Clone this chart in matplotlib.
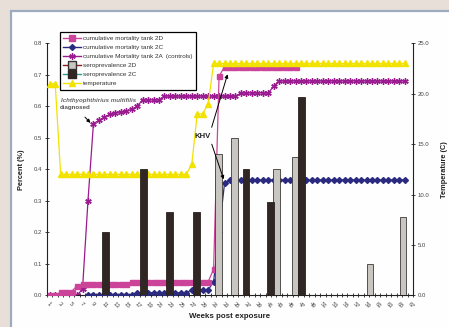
import numpy as np
import matplotlib
matplotlib.use("Agg")
import matplotlib.pyplot as plt
from matplotlib.lines import Line2D
from matplotlib.patches import Rectangle

plt.rcParams['font.family'] = ['Liberation Sans', 'DejaVu Sans']

nan = np.nan
weeks = list(range(1, 68))  # 67 categories

temperature = [21.0, 21.0,
               12.0, 12.0, 12.0, 12.0, 12.0, 12.0, 12.0, 12.0, 12.0, 12.0, 12.0, 12.0,
               12.0, 12.0, 12.0, 12.0, 12.0, 12.0, 12.0, 12.0, 12.0, 12.0, 12.0, 12.0,
               13.0, 18.0, 18.0, 19.0,
               23.0, 23.0, 23.0, 23.0, 23.0, 23.0, 23.0, 23.0, 23.0, 23.0, 23.0, 23.0,
               23.0, 23.0, 23.0, 23.0, 23.0, 23.0, 23.0, 23.0, 23.0, 23.0, 23.0, 23.0,
               23.0, 23.0, 23.0, 23.0, 23.0, 23.0, 23.0, 23.0, 23.0, 23.0, 23.0, 23.0,
               nan]

mort_2d = [0.0, 0.0, 0.01, 0.012, 0.012, 0.03,
           0.036, 0.036, 0.036, 0.036, 0.036, 0.036, 0.036, 0.036, 0.036,
           0.043, 0.043, 0.043, 0.043, 0.043, 0.043, 0.043, 0.043, 0.043, 0.043,
           0.043, 0.043, 0.043, 0.043, 0.043,
           0.083, 0.695,
           0.726, 0.726, 0.726, 0.726, 0.726, 0.726, 0.726, 0.726, 0.726, 0.726,
           0.726, 0.726, 0.726, 0.726,
           nan, nan, nan, nan, nan, nan, nan, nan, nan, nan, nan, nan, nan, nan,
           nan, nan, nan, nan, nan, nan, nan]

mort_2c = [nan, nan, nan, nan, nan, nan, nan,
           0.0, 0.0, 0.0, 0.0, 0.0, 0.0, 0.0, 0.0, 0.0,
           0.008, 0.008, 0.008, 0.008, 0.008, 0.008, 0.008, 0.008, 0.008, 0.008,
           0.017, 0.017, 0.017, 0.017,
           0.043, 0.2, 0.356,
           0.366, 0.366, 0.366, 0.366, 0.366, 0.366, 0.366, 0.366, 0.366, 0.366, 0.366,
           0.366, 0.366, 0.366, 0.366, 0.366, 0.366, 0.366, 0.366, 0.366, 0.366, 0.366,
           0.366, 0.366, 0.366, 0.366, 0.366, 0.366, 0.366, 0.366, 0.366, 0.366, 0.366,
           nan]

mort_2a = [0.0, 0.0, 0.0, 0.0, 0.0, 0.0,
           0.02, 0.3, 0.545, 0.555, 0.565, 0.575, 0.58, 0.582, 0.585, 0.59, 0.60,
           0.62, 0.62, 0.62, 0.62,
           0.632, 0.632, 0.632, 0.632, 0.632, 0.632, 0.632, 0.632, 0.632, 0.632,
           0.632, 0.632, 0.632, 0.632,
           0.642, 0.642, 0.642, 0.642, 0.642, 0.642,
           0.664,
           0.68, 0.68, 0.68, 0.68, 0.68, 0.68, 0.68, 0.68, 0.68, 0.68, 0.68, 0.68,
           0.68, 0.68, 0.68, 0.68, 0.68, 0.68, 0.68, 0.68, 0.68, 0.68, 0.68, 0.68,
           nan]

# seroprevalence bars: position on the week axis (category units) and value
sero_2c_pos = [10.2, 17.2, 21.9, 26.9, 35.9, 40.4, 46.1]
sero_2c_val = [0.2, 0.4, 0.266, 0.266, 0.4, 0.296, 0.629]
sero_2d_pos = [30.9, 33.8, 41.5, 44.9, 58.6, 64.7]
sero_2d_val = [0.45, 0.5, 0.4, 0.44, 0.1, 0.25]

c2d = '#CC4499'
c2c = '#2A2A80'
c2a = '#9A1A90'
ctemp = '#F2E200'
cdark = '#302624'
cgrey = '#C9C5C1'

W, H = 449, 327
fig = plt.figure(figsize=(W / 100, H / 100), dpi=100)
fig.patch.set_facecolor('#E8E0D8')
frame = Rectangle((10.5 / W, -0.1), 1.2, 1 - 10.5 / H + 0.1,
                  transform=fig.transFigure, facecolor='#FEFEFE',
                  edgecolor='#9DABBF', lw=1.6, zorder=-10)
fig.patches.append(frame)

ax = fig.add_axes([47 / W, 1 - 295.3 / H, 366 / W, 252 / H])
ax.patch.set_visible(False)
x = np.arange(len(weeks))

ax.plot(x, mort_2a, color=c2a, lw=0.9, marker=(6, 2, 0), markersize=4.6,
        markeredgewidth=1.0, zorder=2)
ax.plot(x, mort_2c, color=c2c, lw=0.9, marker='D', markersize=3.0, zorder=3)
ax.plot(x, mort_2d, color=c2d, lw=0.9, marker='s', markersize=3.6, zorder=4)

ax.set_xlim(-0.5, len(weeks) - 0.5)
ax.set_ylim(0, 0.8)
ax.set_yticks(np.arange(0, 0.81, 0.1))
ax.set_yticklabels([f'{v:.1f}' for v in np.arange(0, 0.81, 0.1)])
ax.set_xticks(x[::2])
ax.set_xticklabels([str(w) for w in weeks[::2]], rotation=-45, ha='left',
                   va='top', rotation_mode='anchor')
ax.set_xticks(np.arange(-0.5, len(weeks), 1), minor=True)
ax.tick_params(axis='x', which='major', length=0, pad=4, labelsize=4.2,
               labelcolor='#444444')
ax.tick_params(axis='x', which='minor', length=3, direction='inout',
               width=0.6, color='#222222')
ax.tick_params(axis='y', length=3, direction='inout', width=0.6,
               labelsize=4.3, labelcolor='#444444', pad=2, color='#222222')
for s in ['top', 'right']:
    ax.spines[s].set_visible(False)
for s in ['left', 'bottom']:
    ax.spines[s].set_color('#222222')
    ax.spines[s].set_linewidth(0.8)
ax.set_ylabel('Percent (%)', fontsize=5.3, fontweight='bold', color='#222222',
              labelpad=6)
ax.set_xlabel('Weeks post exposure', fontsize=5.7, fontweight='bold',
              color='#222222', labelpad=3)

axt = ax.twinx()
axt.patch.set_visible(False)
axt.plot(x, temperature, color=ctemp, lw=0.9, marker='^', markersize=4.8,
         zorder=2)
axt.set_ylim(0, 25)
axt.set_yticks(np.arange(0, 25.1, 5))
axt.set_yticklabels([f'{v:.1f}' for v in np.arange(0, 25.1, 5)])
axt.tick_params(axis='y', length=3, direction='inout', width=0.6,
                labelsize=4.3, labelcolor='#444444', pad=2, color='#222222')
for s in ['top', 'left', 'bottom']:
    axt.spines[s].set_visible(False)
axt.spines['right'].set_color('#222222')
axt.spines['right'].set_linewidth(0.8)
axt.set_ylabel('Temperature (C)', fontsize=5.3, fontweight='bold',
               color='#222222', labelpad=8)

axb = ax.twinx()
axb.patch.set_visible(False)
axb.set_ylim(0, 0.8)
axb.set_xlim(ax.get_xlim())
axb.bar(sero_2d_pos, sero_2d_val, width=1.2, color=cgrey, edgecolor='#3A3A3A',
        linewidth=0.6, zorder=3)
axb.bar(sero_2c_pos, sero_2c_val, width=1.2, color=cdark, edgecolor='#2A2020',
        linewidth=0.6, zorder=3)
axb.axis('off')

# annotations
axb.text(2.0, 0.617, 'Ichthyophthirius multifilis', fontsize=4.4,
         style='italic', fontweight='bold', color='#666666', ha='left',
         va='center', zorder=6)
axb.text(1.8, 0.595, 'diagnosed', fontsize=4.4, fontweight='bold',
         color='#555555', ha='left', va='center', zorder=6)
axb.annotate('', xy=(7.8, 0.541), xytext=(6.1, 0.572),
             arrowprops=dict(arrowstyle='-|>', color='black', lw=0.7,
                             mutation_scale=5), zorder=6)
axb.text(28.0, 0.504, 'KHV', fontsize=5.6, fontweight='bold', color='#222222',
         ha='center', va='center', zorder=6)
axb.annotate('', xy=(32.7, 0.71), xytext=(29.5, 0.525),
             arrowprops=dict(arrowstyle='-|>', color='black', lw=0.7,
                             mutation_scale=5), zorder=6)
axb.annotate('', xy=(32.0, 0.36), xytext=(29.5, 0.488),
             arrowprops=dict(arrowstyle='-|>', color='black', lw=0.7,
                             mutation_scale=5), zorder=6)

handles = [
    Line2D([], [], color=c2d, marker='s', markersize=4, lw=1),
    Line2D([], [], color=c2c, marker='D', markersize=3, lw=1),
    Line2D([], [], color=c2a, marker=(6, 2, 0), markersize=4.6, lw=1),
    Line2D([], [], color='#8B1E1E', marker='s', markersize=6, lw=1,
           markerfacecolor=cgrey, markeredgecolor='#333333'),
    Line2D([], [], color='#2A9D8F', marker='s', markersize=6, lw=1,
           markerfacecolor=cdark, markeredgecolor=cdark),
    Line2D([], [], color=ctemp, marker='^', markersize=5, lw=1),
]
labels = ['cumulative mortality tank 2D', 'cumulative mortality tank 2C',
          'cumulative Mortality tank 2A  (controls)', 'seroprevalence 2D',
          'seroprevalence 2C', 'temperature']
leg = fig.legend(handles, labels, loc='upper left',
                 bbox_to_anchor=(60 / W, 1 - 32 / H), fontsize=4.55,
                 handlelength=2.75, handletextpad=0.4, labelspacing=0.58,
                 borderpad=0.55, fancybox=False, framealpha=1,
                 edgecolor='black', borderaxespad=0)
leg.get_frame().set_linewidth(0.9)
for t in leg.get_texts():
    t.set_color('#333333')

fig.savefig('out.png', dpi=100, facecolor=fig.get_facecolor())
